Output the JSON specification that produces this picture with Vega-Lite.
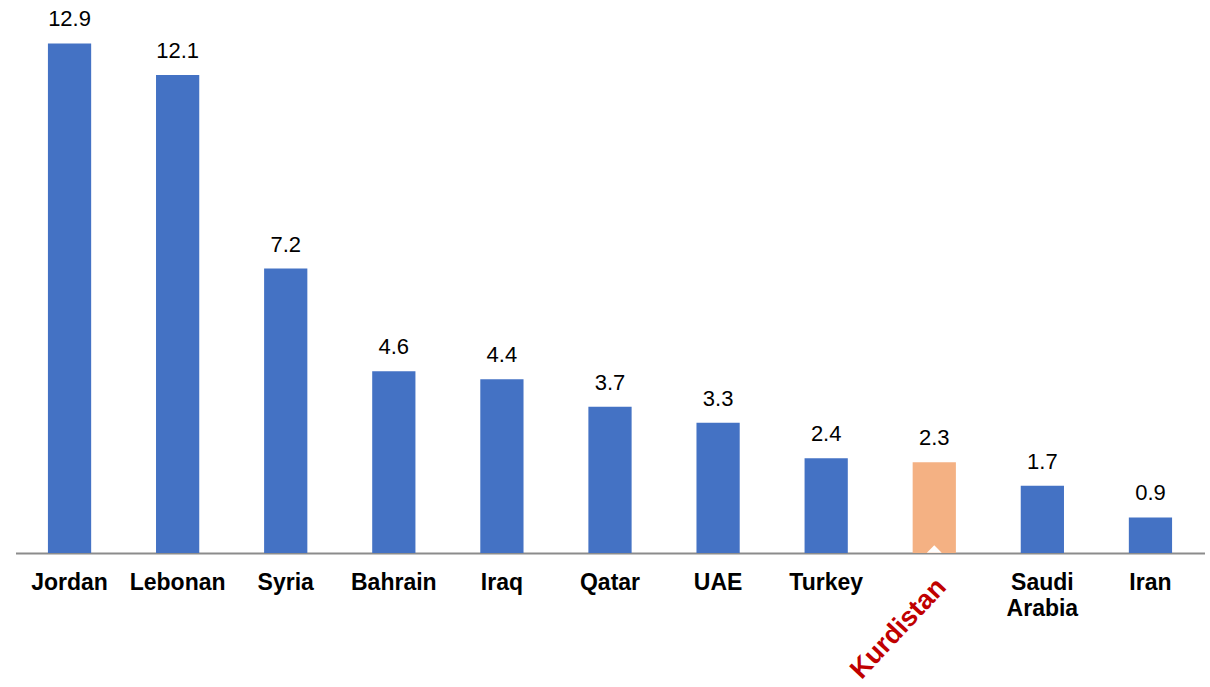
{
  "$schema": "https://vega.github.io/schema/vega-lite/v6.json",
  "width": 1189,
  "height": 553,
  "autosize": {"type": "none"},
  "padding": {"left": 15.5, "top": 0, "right": 5.5, "bottom": 134},
  "background": "white",
  "config": {"view": {"stroke": null}, "font": "Liberation Sans"},
  "data": {
    "values": [
      {"country": "Jordan", "value": 12.9, "group": "other"},
      {"country": "Lebonan", "value": 12.1, "group": "other"},
      {"country": "Syria", "value": 7.2, "group": "other"},
      {"country": "Bahrain", "value": 4.6, "group": "other"},
      {"country": "Iraq", "value": 4.4, "group": "other"},
      {"country": "Qatar", "value": 3.7, "group": "other"},
      {"country": "UAE", "value": 3.3, "group": "other"},
      {"country": "Turkey", "value": 2.4, "group": "other"},
      {"country": "Kurdistan", "value": 2.3, "group": "kurdistan"},
      {"country": "Saudi Arabia", "value": 1.7, "group": "other"},
      {"country": "Iran", "value": 0.9, "group": "other"}
    ]
  },
  "encoding": {
    "x": {
      "field": "country",
      "type": "nominal",
      "sort": null,
      "scale": {"paddingInner": 0.6, "paddingOuter": 0.3},
      "axis": {
        "title": null,
        "ticks": false,
        "domainColor": "#8c8c8c",
        "domainWidth": 2,
        "labelPadding": 18,
        "labelAngle": 0,
        "labelFont": "Liberation Sans",
        "labelFontWeight": "bold",
        "labelFontSize": 23,
        "labelColor": "#000000",
        "labelExpr": "datum.label === 'Saudi Arabia' ? ['Saudi', 'Arabia'] : (datum.label === 'Kurdistan' ? '' : datum.label)",
        "labelLineHeight": 26
      }
    },
    "y": {
      "field": "value",
      "type": "quantitative",
      "scale": {"domain": [0, 14], "nice": false},
      "axis": null
    }
  },
  "layer": [
    {
      "mark": {"type": "bar"},
      "encoding": {
        "color": {
          "field": "group",
          "type": "nominal",
          "scale": {"domain": ["other", "kurdistan"], "range": ["#4472C4", "#F4B183"]},
          "legend": null
        }
      }
    },
    {
      "mark": {"type": "text", "baseline": "bottom", "dy": -12, "fontSize": 22, "font": "Liberation Sans", "color": "#000000"},
      "encoding": {"text": {"field": "value", "type": "quantitative", "format": ".1f"}}
    },
    {
      "transform": [{"filter": "datum.country === 'Kurdistan'"}],
      "mark": {"type": "point", "shape": "M -1 0.5 L 0 -0.5 L 1 0.5 Z", "filled": true, "color": "white", "opacity": 1, "size": 220},
      "encoding": {"y": {"datum": 0.1}}
    },
    {
      "transform": [{"filter": "datum.country === 'Kurdistan'"}],
      "mark": {"type": "text", "angle": -47, "align": "right", "baseline": "middle", "dy": 10, "fontSize": 27, "fontWeight": "bold", "font": "Liberation Sans", "color": "#C00000"},
      "encoding": {
        "y": {"datum": -0.58},
        "text": {"field": "country", "type": "nominal"}
      }
    }
  ]
}
